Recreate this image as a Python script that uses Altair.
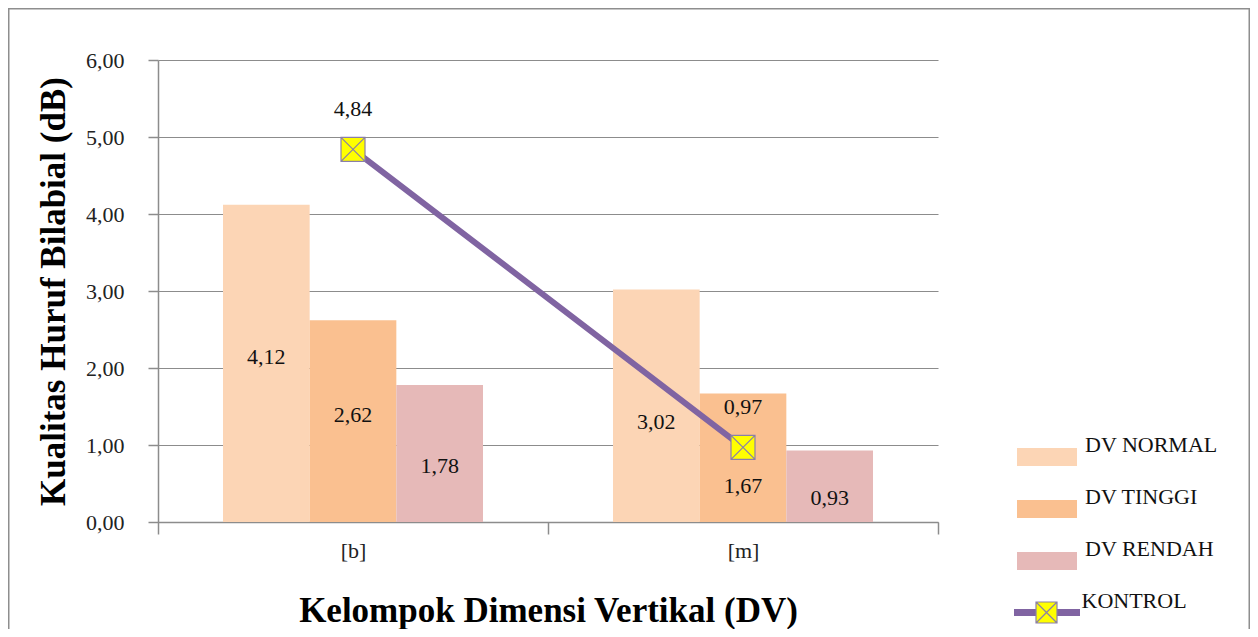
import altair as alt
import pandas as pd

# ---- data ----
categories = ["[b]", "[m]"]
series = ["DV NORMAL", "DV TINGGI", "DV RENDAH"]
dv_normal = [4.12, 3.02]
dv_tinggi = [2.62, 1.67]
dv_rendah = [1.78, 0.93]
kontrol_name = "KONTROL"
kontrol = [4.84, 0.97]
y_ticks = [0, 1, 2, 3, 4, 5, 6]

# label placement inside each bar, as a share of the bar height (layout only)
label_share = {
    "DV NORMAL": [0.52, 0.43],
    "DV TINGGI": [0.53, 0.28],
    "DV RENDAH": [0.41, 0.34],
}

bar_colors = ["#FCD5B5", "#FAC090", "#E6B9B8"]
line_color = "#8064A2"
marker_fill = "#FFFF00"
FONT = "Liberation Serif"


def fmt(v):
    return f"{v:.2f}".replace(".", ",")


rows = []
for s, vals in zip(series, [dv_normal, dv_tinggi, dv_rendah]):
    for i, (c, v) in enumerate(zip(categories, vals)):
        rows.append({"category": c, "series": s, "value": v,
                     "label": fmt(v), "label_y": v * label_share[s][i]})
bars_df = pd.DataFrame(rows)

k_df = pd.DataFrame({"category": categories, "value": kontrol,
                     "name": [kontrol_name] * len(categories),
                     "label": [fmt(v) for v in kontrol]})

x_scale = alt.Scale(domain=categories, paddingInner=0, paddingOuter=0)
x_axis = alt.Axis(title="Kelompok Dimensi Vertikal (DV)", labelAngle=0,
                  tickBand="extent", tickSize=12, labelPadding=6,
                  titlePadding=32, domainColor="#8c8c8c", tickColor="#8c8c8c",
                  domainWidth=1.5, tickWidth=1.5)
x_enc = alt.X("category:N", scale=x_scale, axis=x_axis)
xo_enc = alt.XOffset("series:N", scale=alt.Scale(domain=series, paddingInner=0, paddingOuter=0.75))
y_scale = alt.Scale(domain=[0, 6])

bars = alt.Chart(bars_df).mark_bar().encode(
    x=x_enc,
    xOffset=xo_enc,
    y=alt.Y("value:Q", scale=y_scale,
            axis=alt.Axis(title="Kualitas Huruf Bilabial (dB)", values=y_ticks,
                          labelExpr="replace(format(datum.value, '.2f'), '.', ',')",
                          grid=True, gridColor="#8c8c8c", gridWidth=1.2,
                          tickSize=10, labelPadding=24, titlePadding=14,
                          domainColor="#8c8c8c", tickColor="#8c8c8c",
                          domainWidth=1.5, tickWidth=1.5)),
    color=alt.Color("series:N", scale=alt.Scale(domain=series, range=bar_colors),
                    legend=alt.Legend(title=None, orient="none", legendX=859, legendY=371,
                                      symbolType="M-1,-0.3H1V0.3H-1Z", symbolSize=3600,
                                      symbolStrokeWidth=0, labelOffset=8,
                                      clipHeight=52, rowPadding=0, padding=0,
                                      labelBaseline="bottom")),
)

bar_text = alt.Chart(bars_df).mark_text(fontSize=22, font=FONT, color="#111").encode(
    x=alt.X("category:N", scale=x_scale),
    xOffset=xo_enc,
    y=alt.Y("label_y:Q", scale=y_scale),
    text="label:N",
)

line = alt.Chart(k_df).mark_line(strokeWidth=6, strokeCap="round").encode(
    x=alt.X("category:N", scale=x_scale),
    y=alt.Y("value:Q", scale=y_scale),
    stroke=alt.Stroke("name:N", scale=alt.Scale(domain=[kontrol_name], range=[line_color]),
                      legend=alt.Legend(title=None, orient="none", legendX=855.5, legendY=526.5,
                                        symbolType="M-1.1,0H1.1", symbolSize=3600,
                                        symbolStrokeWidth=7, labelOffset=1,
                                        clipHeight=52, padding=0, zindex=1,
                                        labelBaseline="bottom")),
)

marker_path = "M-1,-1H1V1H-1Z M-1,-1L1,1 M-1,1L1,-1"
points = alt.Chart(k_df).mark_point(shape=marker_path, filled=True, size=576,
                                    stroke="#8a7fa8", strokeWidth=1.2, opacity=1).encode(
    x=alt.X("category:N", scale=x_scale),
    y=alt.Y("value:Q", scale=y_scale),
    fill=alt.Fill("name:N", scale=alt.Scale(domain=[kontrol_name], range=[marker_fill]),
                  legend=alt.Legend(title=None, orient="none", legendX=877, legendY=526.5,
                                    symbolType=marker_path, symbolSize=441,
                                    symbolStrokeColor="#8a7fa8", symbolStrokeWidth=1.2,
                                    labelExpr="''", clipHeight=52, padding=0, zindex=2)),
)

k_text = alt.Chart(k_df).mark_text(fontSize=22, font=FONT, color="#111", dy=-40).encode(
    x=alt.X("category:N", scale=x_scale),
    y=alt.Y("value:Q", scale=y_scale),
    text="label:N",
)

border = alt.Chart(alt.Data(values=[{}])).mark_rect(
    fillOpacity=0, stroke="#8e8e8e", strokeWidth=1.5).encode(
    x=alt.value(-149.25), x2=alt.value(1091.25), y=alt.value(-51.25), y2=alt.value(700))

chart = alt.layer(bars, bar_text, line, points, k_text, border).resolve_scale(
    color="independent", fill="independent", stroke="independent"
).properties(
    width=780, height=462,
    autosize=alt.AutoSizeParams(type="none"),
    padding={"left": 150, "top": 52, "right": 312, "bottom": 107},
    background="white",
).configure_view(stroke=None).configure_axis(
    labelFont=FONT, labelFontSize=22, labelColor="#222",
    titleFont=FONT, titleFontSize=35, titleFontWeight="bold", titleColor="#000",
).configure_legend(
    labelFont=FONT, labelFontSize=22, labelColor="#111", labelLimit=300,
)

chart.save("out.html", embed_options={"renderer": "svg", "actions": False})
